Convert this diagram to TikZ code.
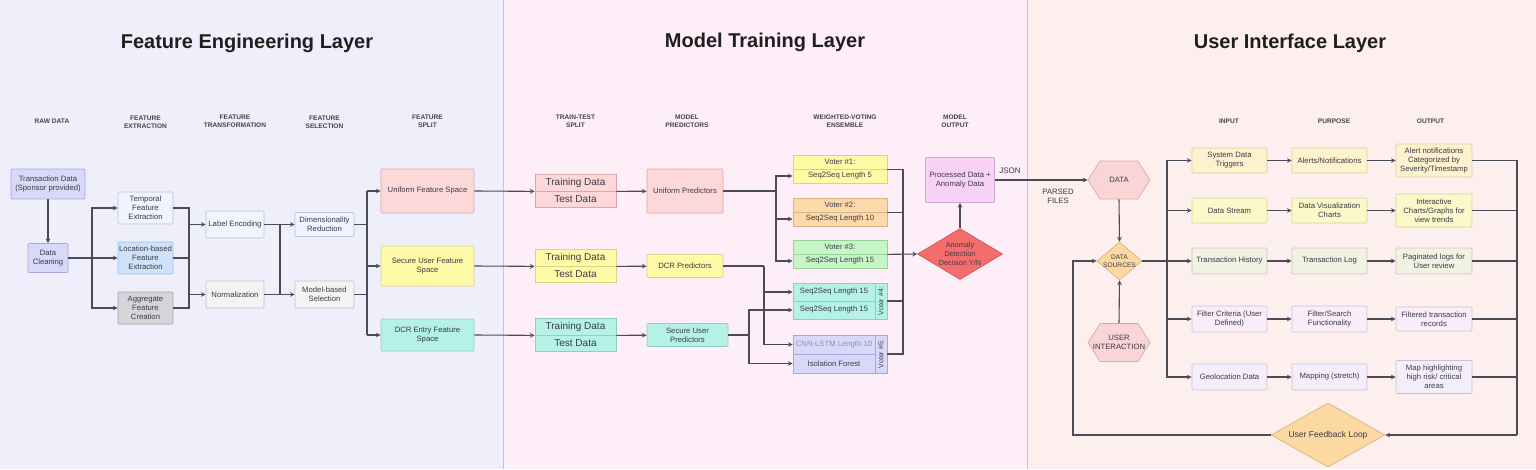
\documentclass[tikz,border=0pt]{standalone}
\usepackage{fontspec}
\setmainfont{Liberation Sans}
\usetikzlibrary{shapes.geometric,shapes.symbols}

% panel and line colours
\definecolor{bgfe}{HTML}{EFEFFC}
\definecolor{bgmt}{HTML}{FDEEF8}
\definecolor{bgui}{HTML}{FDEFED}
\definecolor{divc}{HTML}{C6C3D2}
\definecolor{linec}{HTML}{4B4B57}
\definecolor{boxtext}{HTML}{3B3B47}
\definecolor{hdrtext}{HTML}{44444C}
% box colours
\definecolor{lavf}{HTML}{DAD8F8}\definecolor{lavd}{HTML}{A9A5E2}
\definecolor{palef}{HTML}{EFF4FE}\definecolor{paled}{HTML}{B9C6DE}
\definecolor{bluef}{HTML}{CFE2FB}\definecolor{blued}{HTML}{9EBBE6}
\definecolor{grayf}{HTML}{D4D5D8}\definecolor{grayd}{HTML}{A3A5AA}
\definecolor{lgrayf}{HTML}{F3F3F3}\definecolor{lgrayd}{HTML}{C4C4C4}
\definecolor{pinkf}{HTML}{FDD8D8}\definecolor{pinkd}{HTML}{D9A8A8}
\definecolor{yelf}{HTML}{FFFAA6}\definecolor{yeld}{HTML}{D8D38A}
\definecolor{tealf}{HTML}{B4F1E6}\definecolor{teald}{HTML}{8DCFC3}
\definecolor{orgf}{HTML}{FDD9A9}\definecolor{orgd}{HTML}{D9B585}
\definecolor{grnf}{HTML}{C6F6C6}\definecolor{grnd}{HTML}{98D298}
\definecolor{procf}{HTML}{F8D2F5}\definecolor{procd}{HTML}{D3A3D3}
\definecolor{anomf}{HTML}{F46D6D}\definecolor{anomd}{HTML}{D15858}
\definecolor{hexf}{HTML}{F9D5D5}\definecolor{hexd}{HTML}{D7ABAB}
\definecolor{srcf}{HTML}{FCD9A1}\definecolor{srcd}{HTML}{D6B37E}
\definecolor{r1f}{HTML}{FDF2CE}\definecolor{r1d}{HTML}{DCCFA5}
\definecolor{r2f}{HTML}{FBF8C9}\definecolor{r2d}{HTML}{D8D4A0}
\definecolor{r3f}{HTML}{F2F2E2}\definecolor{r3d}{HTML}{CACAB6}
\definecolor{r4f}{HTML}{F8EDF9}\definecolor{r4d}{HTML}{D2C2D6}
\definecolor{r5f}{HTML}{F4EEFB}\definecolor{r5d}{HTML}{C9C1DB}

\tikzset{
  box/.style={rectangle, draw, line width=0.7pt, rounded corners=1.2pt, align=center,
    inner sep=1pt, text=boxtext, font=\fontsize{7.7}{9}\selectfont},
  tdbox/.style={box, rounded corners=0pt, minimum width=81pt, minimum height=16.5pt,
    font=\fontsize{10}{11}\selectfont},
  vbox/.style={box, rounded corners=0pt, font=\fontsize{7.7}{9}\selectfont},
  dia/.style={diamond, draw, line width=0.7pt, inner sep=0pt},
  hexa/.style={signal, signal to=east and west, signal pointer angle=115, draw,
    line width=0.7pt, inner sep=0pt, fill=hexf, draw=hexd, minimum width=62pt, minimum height=38pt},
  dtext/.style={align=center, text=boxtext, inner sep=0pt},
  hdr/.style={align=center, text=hdrtext, font=\bfseries\fontsize{6.6}{8}\selectfont},
  layer/.style={text=black!88, font=\bfseries\fontsize{20}{22}\selectfont},
  link/.style={line width=1.1pt, draw=linec},
  flow/.style={link, ->},
  divider/.style={line width=0.8pt, draw=divc}
}

\begin{document}
\begin{tikzpicture}[>=stealth, x=1pt, y=-1pt]
\useasboundingbox (0,0) rectangle (1536,469);

% three layers
\fill[bgfe] (0,0) rectangle (503,469);
\fill[bgmt] (503,0) rectangle (1027,469);
\fill[bgui] (1027,0) rectangle (1536,469);
\draw[divider] (503,0) -- (503,469);
\draw[divider] (1027,0) -- (1027,469);

\node[layer] (tfe) at (247,43) {Feature Engineering Layer};
\node[layer] (tmt) at (765,42) {Model Training Layer};
\node[layer] (tui) at (1290,43) {User Interface Layer};

% column headers
\node[hdr] (hraw) at (52,121) {RAW DATA};
\node[hdr] (hext) at (145.5,122) {FEATURE\\EXTRACTION};
\node[hdr] (htrans) at (235,121) {FEATURE\\TRANSFORMATION};
\node[hdr] (hsel) at (324.5,122.5) {FEATURE\\SELECTION};
\node[hdr] (hsplit) at (427.5,121) {FEATURE\\SPLIT};
\node[hdr] (htt) at (575.5,121) {TRAIN-TEST\\SPLIT};
\node[hdr] (hpred) at (687,121) {MODEL\\PREDICTORS};
\node[hdr] (hens) at (845,121) {WEIGHTED-VOTING\\ENSEMBLE};
\node[hdr] (hout) at (955,121) {MODEL\\OUTPUT};
\node[hdr] (hin) at (1229,121) {INPUT};
\node[hdr] (hpurp) at (1334,121) {PURPOSE};
\node[hdr] (houtp) at (1430.5,121) {OUTPUT};

% feature engineering
\node[box, fill=lavf, draw=lavd, minimum width=74pt, minimum height=30pt] (txn) at (48,184) {Transaction Data\\(Sponsor provided)};
\node[box, fill=lavf, draw=lavd, minimum width=40pt, minimum height=29pt] (clean) at (48,258) {Data\\Cleaning};
\node[box, fill=palef, draw=paled, minimum width=55pt, minimum height=32pt] (temporal) at (145.5,208) {Temporal\\Feature\\Extraction};
\node[box, fill=bluef, draw=blued, minimum width=55pt, minimum height=32pt] (location) at (145.5,258) {Location-based\\Feature\\Extraction};
\node[box, fill=grayf, draw=grayd, minimum width=55pt, minimum height=32pt] (aggregate) at (145.5,308) {Aggregate\\Feature\\Creation};
\node[box, fill=palef, draw=paled, minimum width=58pt, minimum height=27pt] (labelenc) at (235,224.5) {Label Encoding};
\node[box, fill=lgrayf, draw=lgrayd, minimum width=58pt, minimum height=27pt] (norm) at (235,294.5) {Normalization};
\node[box, fill=palef, draw=paled, minimum width=59pt, minimum height=24pt] (dimred) at (324.5,224.5) {Dimensionality\\Reduction};
\node[box, fill=lgrayf, draw=lgrayd, minimum width=59pt, minimum height=27pt] (modelsel) at (324.5,294.5) {Model-based\\Selection};
\node[box, fill=pinkf, draw=pinkd, minimum width=93pt, minimum height=44pt] (uniform) at (427.5,191) {Uniform Feature Space};
\node[box, fill=yelf, draw=yeld, minimum width=93pt, minimum height=40pt] (secure) at (427.5,266) {Secure User Feature\\Space};
\node[box, fill=tealf, draw=teald, minimum width=93pt, minimum height=32pt] (dcr) at (427.5,335) {DCR Entry Feature\\Space};

\coordinate (b1) at (92,258);
\coordinate (j1) at (189,224.5);
\coordinate (j2) at (189,294.5);
\coordinate (j3) at (280,224.5);
\coordinate (j4) at (280,294.5);
\coordinate (s1) at (367,191);
\coordinate (s3) at (367,335);

\draw[flow] (txn) -- (clean);
\draw[flow] (clean) -- (location);
\draw[flow] (b1) |- (temporal.west);
\draw[flow] (b1) |- (aggregate.west);
\draw[link] (temporal.east) -| (j1);
\draw[link] (location.east) -- (location.east -| j1);
\draw[link] (aggregate.east) -| (j2);
\draw[link] (j1) -- (j2);
\draw[flow] (j1) -- (labelenc);
\draw[flow] (j2) -- (norm);
\draw[link] (labelenc) -- (j3) -- (j4) -- (norm);
\draw[flow] (j3) -- (dimred);
\draw[flow] (j4) -- (modelsel);
\draw[link] (dimred.east) -- (dimred.east -| s1);
\draw[link] (modelsel.east) -- (modelsel.east -| s1);
\draw[link] (s1) -- (s3);
\draw[flow] (s1) -- (uniform);
\draw[flow] (secure.west -| s1) -- (secure);
\draw[flow] (s3) -- (dcr);

% model training
\node[tdbox, fill=pinkf, draw=pinkd] (train1) at (575.5,182.75) {Training Data};
\node[tdbox, fill=pinkf, draw=pinkd] (test1) at (575.5,199.25) {Test Data};
\node[tdbox, fill=yelf, draw=yeld] (train2) at (575.5,257.75) {Training Data};
\node[tdbox, fill=yelf, draw=yeld] (test2) at (575.5,274.25) {Test Data};
\node[tdbox, fill=tealf, draw=teald] (train3) at (575.5,326.75) {Training Data};
\node[tdbox, fill=tealf, draw=teald] (test3) at (575.5,343.25) {Test Data};

\node[box, fill=pinkf, draw=pinkd, minimum width=76pt, minimum height=44pt] (unipred) at (685,191) {Uniform Predictors};
\node[box, fill=yelf, draw=yeld, minimum width=76pt, minimum height=23pt] (dcrpred) at (685,266) {DCR Predictors};
\node[box, fill=tealf, draw=teald, minimum width=81pt, minimum height=23pt] (secpred) at (687.5,335) {Secure User\\Predictors};

\draw[flow] (uniform.east) -- (train1.south west);
\draw[flow] (secure.east) -- (train2.south west);
\draw[flow] (dcr.east) -- (train3.south west);
\draw[flow] (train1.south east) -- (unipred);
\draw[flow] (train2.south east) -- (dcrpred);
\draw[flow] (train3.south east) -- (secpred);

% voters
\node[vbox, fill=yelf, draw=yeld, minimum width=94pt, minimum height=14pt] (v1h) at (840,162) {Voter \#1:};
\node[vbox, fill=yelf, draw=yeld, minimum width=94pt, minimum height=14pt] (v1b) at (840,176) {Seq2Seq Length 5};
\node[vbox, fill=orgf, draw=orgd, minimum width=94pt, minimum height=14pt] (v2h) at (840,205) {Voter \#2:};
\node[vbox, fill=orgf, draw=orgd, minimum width=94pt, minimum height=14pt] (v2b) at (840,219) {Seq2Seq Length 10};
\node[vbox, fill=grnf, draw=grnd, minimum width=94pt, minimum height=14pt] (v3h) at (840,247) {Voter \#3:};
\node[vbox, fill=grnf, draw=grnd, minimum width=94pt, minimum height=14pt] (v3b) at (840,261) {Seq2Seq Length 15};
\node[vbox, fill=tealf, draw=teald, minimum width=82pt, minimum height=18pt] (v4a) at (834,292) {Seq2Seq Length 15};
\node[vbox, fill=tealf, draw=teald, minimum width=82pt, minimum height=18pt] (v4b) at (834,310) {Seq2Seq Length 15};
\node[vbox, fill=tealf, draw=teald, minimum width=12pt, minimum height=36pt, inner sep=0pt, font=\fontsize{7}{8}\selectfont] (v4s) at (881,301) {\rotatebox{90}{Voter \#4:}};
\node[vbox, fill=lavf, draw=lavd, minimum width=82pt, minimum height=19pt, text=boxtext!55] (v5a) at (834,344.5) {CNN-LSTM Length 10};
\node[vbox, fill=lavf, draw=lavd, minimum width=82pt, minimum height=19pt] (v5b) at (834,363.5) {Isolation Forest};
\node[vbox, fill=lavf, draw=lavd, minimum width=12pt, minimum height=38pt, inner sep=0pt, font=\fontsize{7}{8}\selectfont] (v5s) at (881,354) {\rotatebox{90}{Voter \#5:}};

\coordinate (u1) at (776,191);
\coordinate (d1) at (764,266);
\coordinate (q1) at (749,335);
\coordinate (e1) at (903,254);

\draw[link] (unipred.east) -- (u1);
\draw[flow] (u1) |- (v1b.west);
\draw[flow] (u1) |- (v2b.west);
\draw[flow] (u1) |- (v3b.west);
\draw[link] (dcrpred.east) -- (d1);
\draw[flow] (d1) |- (v4a.west);
\draw[flow] (d1) |- (v5a.west);
\draw[link] (secpred.east) -- (q1);
\draw[flow] (q1) |- (v4b.west);
\draw[flow] (q1) |- (v5b.west);

% model output
\node[dia, fill=anomf, draw=anomd, minimum width=85pt, minimum height=51pt] (anomaly) at (960,254) {};
\node[dtext, font=\fontsize{7.3}{8.7}\selectfont] (anomalytxt) at (anomaly) {Anomaly\\Detection\\Decision Y/N};
\node[box, fill=procf, draw=procd, minimum width=69pt, minimum height=45pt] (processed) at (960,180) {Processed Data +\\Anomaly Data};

\draw[link] (v1h.south east) -| (e1);
\draw[link] (v2h.south east) -| (e1);
\draw[link] (v4s.east) -| (e1);
\draw[link] (v5s.east) -| (e1);
\draw[flow] (v3h.south east) -- (anomaly.west);
\draw[flow] (anomaly.north) -- (processed.south);

% user interface
\node[hexa] (datahex) at (1119,180) {};
\node[dtext, font=\fontsize{7.7}{9}\selectfont] (datatxt) at (datahex) {DATA};
\node[hexa] (userhex) at (1119,342.5) {};
\node[dtext, font=\fontsize{7.7}{9}\selectfont] (usertxt) at (userhex) {USER\\INTERACTION};
\node[dia, fill=srcf, draw=srcd, minimum width=45pt, minimum height=38pt] (dsrc) at (1119.5,261) {};
\node[dtext, font=\fontsize{6.6}{8}\selectfont] (dsrctxt) at (dsrc) {DATA\\SOURCES};

\draw[flow] (processed.east) -- (datahex.west);
\node[text=boxtext, font=\fontsize{8}{9}\selectfont] (json) at (1010,171) {JSON};
\node[text=boxtext, align=center, font=\fontsize{7.7}{9}\selectfont] (parsed) at (1058,196) {PARSED\\FILES};
\draw[flow] (datahex.south) -- (dsrc.north);
\draw[flow] (userhex.north) -- (dsrc.south);

\node[box, fill=r1f, draw=r1d, minimum width=75pt, minimum height=25pt] (in1) at (1229.5,160.5) {System Data\\Triggers};
\node[box, fill=r2f, draw=r2d, minimum width=75pt, minimum height=25pt] (in2) at (1229.5,210.5) {Data Stream};
\node[box, fill=r3f, draw=r3d, minimum width=75pt, minimum height=26pt] (in3) at (1229.5,261) {Transaction History};
\node[box, fill=r4f, draw=r4d, minimum width=75pt, minimum height=26pt] (in4) at (1229.5,319) {Filter Criteria (User\\Defined)};
\node[box, fill=r5f, draw=r5d, minimum width=75pt, minimum height=26pt] (in5) at (1229.5,377) {Geolocation Data};

\node[box, fill=r1f, draw=r1d, minimum width=75pt, minimum height=25pt] (p1) at (1329.5,160.5) {Alerts/Notifications};
\node[box, fill=r2f, draw=r2d, minimum width=75pt, minimum height=25pt] (p2) at (1329.5,210.5) {Data Visualization\\Charts};
\node[box, fill=r3f, draw=r3d, minimum width=75pt, minimum height=26pt] (p3) at (1329.5,261) {Transaction Log};
\node[box, fill=r4f, draw=r4d, minimum width=75pt, minimum height=26pt] (p4) at (1329.5,319) {Filter/Search\\Functionality};
\node[box, fill=r5f, draw=r5d, minimum width=75pt, minimum height=26pt] (p5) at (1329.5,377) {Mapping (stretch)};

\node[box, fill=r1f, draw=r1d, minimum width=76pt, minimum height=33pt] (o1) at (1434,160.5) {Alert notifications\\Categorized by\\Severity/Timestamp};
\node[box, fill=r2f, draw=r2d, minimum width=76pt, minimum height=33pt] (o2) at (1434,210.5) {Interactive\\Charts/Graphs for\\view trends};
\node[box, fill=r3f, draw=r3d, minimum width=76pt, minimum height=26pt] (o3) at (1434,261) {Paginated logs for\\User review};
\node[box, fill=r4f, draw=r4d, minimum width=76pt, minimum height=24pt] (o4) at (1434,319) {Filtered transaction\\records};
\node[box, fill=r5f, draw=r5d, minimum width=76pt, minimum height=33pt] (o5) at (1434,377) {Map highlighting\\high risk/ critical\\areas};

\node[dia, fill=srcf, draw=srcd, minimum width=114pt, minimum height=64pt] (feedback) at (1328,435) {};
\node[dtext, font=\fontsize{8.5}{10}\selectfont] (feedbacktxt) at (feedback) {User Feedback Loop};

\coordinate (r1) at (1167,261);
\coordinate (fb) at (1517,435);
\coordinate (lp) at (1073,435);

\draw[link] (dsrc.east) -- (r1);
\foreach \i in {1,...,5}{
  \draw[flow] (r1) |- (in\i.west);
  \draw[flow] (in\i) -- (p\i);
  \draw[flow] (p\i) -- (o\i);
  \draw[link] (o\i.east) -| (fb);
}
\draw[flow] (fb) -- (feedback.east);
\draw[flow] (feedback.west) -- (lp) |- (dsrc.west);

\end{tikzpicture}
\end{document}
